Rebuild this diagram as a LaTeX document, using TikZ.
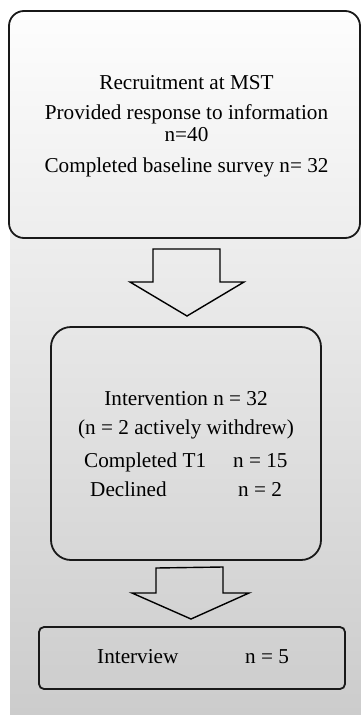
\documentclass[tikz,border=0pt]{standalone}
\usepackage{fontspec}
\setmainfont{Liberation Serif}
\begin{document}
\begin{tikzpicture}[x=1pt,y=-1pt,
  txt/.style={inner sep=0pt,font=\fontsize{21.2}{25}\selectfont,text=black},
  boxline/.style={draw=black!90,line width=1.8pt},
  blockarrow/.style={draw=black,line width=1.4pt,fill=none,line join=miter}]
\useasboundingbox (0,0) rectangle (361,715);
% background panel
\shade[top color=black!1,bottom color=black!20] (10,20) rectangle (361,715);
% boxes
\node[boxline,rounded corners=15pt,minimum width=351pt,minimum height=227pt,inner sep=0pt] (recruit) at (184.5,124.5) {};
\node[boxline,rounded corners=20pt,minimum width=270pt,minimum height=233pt,inner sep=0pt] (interv) at (186,443.5) {};
\node[boxline,rounded corners=5pt,minimum width=306pt,minimum height=62pt,inner sep=0pt] (interview) at (192,658) {};
% texts box 1
\node[txt,anchor=base] (t1) at (186.5,89) {Recruitment at MST};
\node[txt,anchor=base] (t2) at (186.5,119) {Provided response to information};
\node[txt,anchor=base] (t3) at (186.5,141) {n=40};
\node[txt,anchor=base] (t4) at (186.5,172) {Completed baseline survey n= 32};
% texts box 2
\node[txt,anchor=base] (u1) at (186,405) {Intervention n = 32};
\node[txt,anchor=base] (u2) at (186,434) {(n = 2 actively withdrew)};
\node[txt,anchor=base west] (u3) at (84,467) {Completed T1};
\node[txt,anchor=base west] (u4) at (233,467) {n = 15};
\node[txt,anchor=base west] (u5) at (90,496) {Declined};
\node[txt,anchor=base west] (u6) at (238,496) {n = 2};
% text box 3
\node[txt,anchor=base west] (v1) at (97,663) {Interview};
\node[txt,anchor=base west] (v2) at (245,663) {n = 5};
% block arrows
\draw[blockarrow] (153,249) -- (220,249) -- (220,282) -- (244,282) -- (187,316) -- (130,282) -- (153,282) -- cycle;
\draw[blockarrow] (156,568) -- (223,567) -- (223,593) -- (249,593) -- (191,619) -- (132,593) -- (156,593) -- cycle;
\end{tikzpicture}
\end{document}
